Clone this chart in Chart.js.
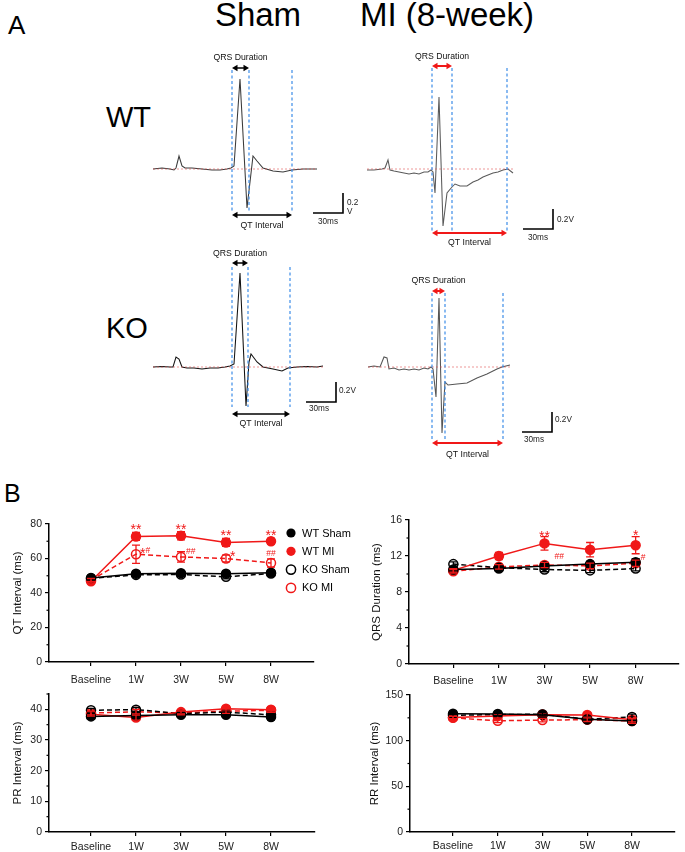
<!DOCTYPE html>
<html><head><meta charset="utf-8">
<script src="https://cdn.jsdelivr.net/npm/chart.js@4.4.1/dist/chart.umd.min.js"></script>
<style>
html,body{margin:0;padding:0;background:#fff}
#fig{position:relative;width:685px;height:852px;overflow:hidden;font-family:"Liberation Sans",Arial,sans-serif;color:#000;background:#fff}
#fig canvas{position:absolute}
.lbl{position:absolute;white-space:nowrap;line-height:1}
.ctr{text-align:center;width:240px}
</style></head><body>
<div id="fig">
<div class="lbl" style="left:8px;top:12px;font-size:26px">A</div>
<div class="lbl ctr" style="left:138px;top:-2px;font-size:33px">Sham</div>
<div class="lbl ctr" style="left:327px;top:-2px;font-size:33px">MI (8-week)</div>
<div class="lbl" style="left:106px;top:103px;font-size:29px">WT</div>
<div class="lbl" style="left:106px;top:314px;font-size:29px">KO</div>
<div class="lbl" style="left:4px;top:481px;font-size:25px">B</div>
</div>
<script>
// ================= PANEL A DATA (ECG traces: time in ms from QRS onset, amplitude in V) =================
const wtShamT = [-79,-70,-62,-58,-56,-53,-50,-47,-40,-30,-20,-12,-5,-1,2,8,15,21,25,31,41,51,60,71,85];
const wtShamV = [0,0.01,0,-0.01,0.01,0.13,0.03,0.01,0.01,0,-0.01,-0.01,0,0.01,0.03,0.90,-0.39,0.13,0.08,0.01,-0.02,-0.03,-0.01,0,0];
const wtMiT = [-65,-58,-50,-47,-44,-42,-38,-33,-28,-23,-18,-13,-8,-4,-1,1,3,7,11,15,20,23,28,35,41,46,51,56,61,66,71,76,81];
const wtMiV = [-0.01,-0.01,0,0.01,0.09,-0.01,-0.02,-0.03,-0.04,-0.05,-0.04,-0.05,-0.03,-0.03,-0.01,-0.03,-0.24,0.72,-0.57,-0.24,-0.18,-0.15,-0.17,-0.17,-0.13,-0.11,-0.08,-0.06,-0.04,-0.03,-0.01,0,-0.04];
const koShamT = [-79,-70,-62,-59,-56,-53,-50,-45,-38,-30,-22,-14,-7,-2,2,8,14,17,19,25,31,41,50,56,65,75,85,91];
const koShamV = [0,0.005,0,0,0.10,0.08,0,-0.01,-0.01,-0.02,-0.01,-0.01,0,0.01,0.03,0.94,-0.39,0.05,0.13,0.05,0,-0.02,-0.04,-0.01,0,0.005,0,0.01];
const koMiT = [-64,-58,-52,-50,-48,-45,-43,-38,-33,-28,-23,-18,-13,-8,-4,-1,1,4,7,10,13,16,25,35,45,55,65,70,78];
const koMiV = [0,0.01,0,0.05,0.10,0.09,-0.02,-0.01,-0.03,-0.02,-0.03,-0.02,-0.03,-0.01,-0.02,0,-0.02,-0.30,0.69,-0.66,-0.15,-0.18,-0.17,-0.16,-0.11,-0.07,-0.02,0,0.02];
// interval markers (ms from QRS onset): WT Sham, WT MI, KO Sham, KO MI
const qrsEndMs = [17, 20, 16, 13];
const qtEndMs  = [60, 75, 58, 71];
const scaleBarMs = 30, scaleBarV = 0.2;
const scaleBarText = ['0.2\nV', '0.2V', '0.2V', '0.2V'];

// ================= PANEL B DATA =================
const categories = ['Baseline', '1W', '3W', '5W', '8W'];
const groupNames = ['WT Sham', 'WT MI', 'KO Sham', 'KO MI'];
// QT interval (ms): mean, SEM
const qtWTSham = [48.7, 51.2, 51.5, 51.2, 51.8];
const qtWTMI   = [46.8, 72.8, 73.2, 69.3, 70.0];
const qtKOSham = [48.5, 50.5, 50.7, 49.4, 51.3];
const qtKOMI   = [47.5, 62.5, 60.9, 60.0, 57.4];
const qtWTShamSem = [0.8, 1.3, 1.3, 1.3, 1.8];
const qtWTMISem   = [0.9, 2.3, 2.4, 2.3, 1.6];
const qtKOShamSem = [0.7, 1.0, 1.0, 1.2, 1.5];
const qtKOMISem   = [0.9, 5.3, 3.0, 2.0, 2.4];
// QRS duration (ms)
const qrsWTSham = [10.5, 10.6, 10.9, 11.1, 11.3];
const qrsWTMI   = [10.4, 12.0, 13.4, 12.7, 13.2];
const qrsKOSham = [11.1, 10.7, 10.5, 10.4, 10.6];
const qrsKOMI   = [10.3, 10.8, 11.0, 10.9, 11.2];
const qrsWTShamSem = [0.2, 0.25, 0.25, 0.3, 0.4];
const qrsWTMISem   = [0.2, 0.4, 0.75, 0.8, 0.95];
const qrsKOShamSem = [0.25, 0.25, 0.25, 0.25, 0.25];
const qrsKOMISem   = [0.2, 0.25, 0.3, 0.3, 0.35];
// PR interval (ms)
const prWTSham = [37.7, 38.0, 38.2, 38.2, 37.5];
const prWTMI   = [38.4, 37.3, 39.1, 40.2, 39.9];
const prKOSham = [39.7, 39.9, 38.6, 39.1, 38.2];
const prKOMI   = [38.8, 39.2, 38.8, 39.4, 39.7];
const prWTShamSem = [0.5, 1.0, 0.8, 0.8, 0.9];
const prWTMISem   = [0.6, 0.8, 0.6, 0.6, 0.8];
const prKOShamSem = [0.6, 0.7, 0.7, 0.7, 0.8];
const prKOMISem   = [0.6, 0.7, 0.6, 0.7, 0.7];
// RR interval (ms)
const rrWTSham = [129.5, 129.2, 128.5, 123.5, 121.5];
const rrWTMI   = [125.5, 127.0, 128.5, 128.2, 123.0];
const rrKOSham = [127.8, 128.5, 129.0, 123.5, 126.0];
const rrKOMI   = [125.0, 121.8, 122.5, 123.0, 121.5];
const rrWTShamSem = [1.5, 1.5, 2.0, 2.5, 2.5];
const rrWTMISem   = [1.5, 2.0, 2.0, 2.5, 2.5];
const rrKOShamSem = [1.5, 1.5, 2.0, 2.0, 3.0];
const rrKOMISem   = [1.5, 2.0, 2.0, 2.0, 2.5];
// significance marks
const qtMarks  = [{g:1,i:1,text:'**'},{g:1,i:2,text:'**'},{g:1,i:3,text:'**'},{g:1,i:4,text:'**'},
                  {g:3,i:1,text:'*#'},{g:3,i:2,text:'##'},{g:3,i:3,text:'*'},{g:3,i:4,text:'##'}];
const qrsMarks = [{g:1,i:2,text:'**'},{g:1,i:4,text:'*'},{g:3,i:2,text:'##'},{g:3,i:4,text:'#'}];

// ================= STYLE / LAYOUT =================
const FONT = '"Liberation Sans", Arial, sans-serif';
const RED = '#f01818';
const fig = document.getElementById('fig');
const PX_PER_MS = 1, PX_PER_V = 100;

function addCanvas(left, top, w, h) {
  const cv = document.createElement('canvas');
  cv.width = w; cv.height = h;
  Object.assign(cv.style, {left: left + 'px', top: top + 'px', width: w + 'px', height: h + 'px'});
  fig.appendChild(cv);
  return cv;
}

// ---------- Panel A ----------
const ecgTraces = [[wtShamT, wtShamV], [wtMiT, wtMiV], [koShamT, koShamV], [koMiT, koMiV]];
const ecgIsMI = [false, true, false, true];
const ecgLayout = [
  {x0:232, y0:169, tmin:-85, tmax:135, vmin:-0.66, vmax:1.2, lineTop:0.99, lineBot:-0.44, qrsA:1.01, qrsT:1.11, qtA:-0.46, qtT:-0.57,
   barEnd:111, barV:-0.44, barLblT:115, barLblV:-0.34, msLblT:96, msLblV:-0.53, color:'#3a3a3a'},
  {x0:432, y0:169, tmin:-70, tmax:145, vmin:-0.8, vmax:1.2, lineTop:1.01, lineBot:-0.64, qrsA:1.03, qrsT:1.12, qtA:-0.64, qtT:-0.74,
   barEnd:121, barV:-0.60, barLblT:125, barLblV:-0.51, msLblT:106, msLblV:-0.69, color:'#5a5a5a'},
  {x0:232, y0:367, tmin:-85, tmax:135, vmin:-0.66, vmax:1.2, lineTop:1.0, lineBot:-0.40, qrsA:1.04, qrsT:1.13, qtA:-0.47, qtT:-0.57,
   barEnd:104, barV:-0.35, barLblT:107, barLblV:-0.24, msLblT:87, msLblV:-0.415, color:'#111'},
  {x0:432, y0:367, tmin:-70, tmax:150, vmin:-0.95, vmax:0.95, lineTop:0.74, lineBot:-0.73, qrsA:0.76, qrsT:0.86, qtA:-0.76, qtT:-0.88,
   barEnd:120, barV:-0.65, barLblT:123, barLblV:-0.53, msLblT:102, msLblV:-0.73, color:'#555'}
];

function drawArrow(ctx, x1, x2, y, color, lw) {
  const h = 5.5, w = 3.2;
  ctx.strokeStyle = color; ctx.fillStyle = color; ctx.lineWidth = lw;
  ctx.beginPath(); ctx.moveTo(x1 + h - 1, y); ctx.lineTo(x2 - h + 1, y); ctx.stroke();
  ctx.beginPath(); ctx.moveTo(x1, y); ctx.lineTo(x1 + h, y - w); ctx.lineTo(x1 + h, y + w); ctx.closePath(); ctx.fill();
  ctx.beginPath(); ctx.moveTo(x2, y); ctx.lineTo(x2 - h, y - w); ctx.lineTo(x2 - h, y + w); ctx.closePath(); ctx.fill();
}

function makeEcgPlugin(k) {
  const L = ecgLayout[k], mi = ecgIsMI[k];
  return {
    id: 'ecgDecor' + k,
    afterDatasetsDraw(chart) {
      const {ctx} = chart; const xs = chart.scales.x, ys = chart.scales.y;
      const X = t => xs.getPixelForValue(t), Y = v => ys.getPixelForValue(v);
      ctx.save();
      ctx.strokeStyle = '#3d8de8'; ctx.lineWidth = 1.2; ctx.setLineDash([3, 2.5]);
      [0, qrsEndMs[k], qtEndMs[k]].forEach(t => {
        ctx.beginPath(); ctx.moveTo(X(t), Y(L.lineTop)); ctx.lineTo(X(t), Y(L.lineBot)); ctx.stroke();
      });
      ctx.setLineDash([]);
      const ac = mi ? RED : '#000';
      drawArrow(ctx, X(0), X(qrsEndMs[k]), Y(L.qrsA), ac, mi ? 2 : 1.5);
      drawArrow(ctx, X(0), X(qtEndMs[k]), Y(L.qtA), ac, mi ? 2.2 : 1.5);
      ctx.fillStyle = '#111'; ctx.font = '8.7px ' + FONT; ctx.textAlign = 'center'; ctx.textBaseline = 'middle';
      ctx.fillText('QRS Duration', X(qrsEndMs[k] / 2), Y(L.qrsT));
      ctx.fillText('QT Interval', X(qtEndMs[k] / 2), Y(L.qtT));
      // scale bar
      ctx.strokeStyle = '#000'; ctx.lineWidth = 1.6;
      ctx.beginPath();
      ctx.moveTo(X(L.barEnd - scaleBarMs), Y(L.barV));
      ctx.lineTo(X(L.barEnd), Y(L.barV));
      ctx.lineTo(X(L.barEnd), Y(L.barV + scaleBarV));
      ctx.stroke();
      ctx.fillStyle = '#222'; ctx.font = '8.2px ' + FONT;
      ctx.textAlign = 'center';
      ctx.fillText(scaleBarMs + 'ms', X(L.msLblT), Y(L.msLblV));
      ctx.textAlign = 'left';
      const lines = scaleBarText[k].split('\n');
      lines.forEach((s, j) => ctx.fillText(s, X(L.barLblT), Y(L.barLblV) + j * 8.5));
      ctx.restore();
    }
  };
}

ecgLayout.forEach((L, k) => {
  const [T, V] = ecgTraces[k];
  const w = Math.round((L.tmax - L.tmin) * PX_PER_MS), h = Math.round((L.vmax - L.vmin) * PX_PER_V);
  const cv = addCanvas(L.x0 + L.tmin * PX_PER_MS, Math.round(L.y0 - L.vmax * PX_PER_V), w, h);
  new Chart(cv, {
    type: 'scatter',
    data: {datasets: [
      {data: [{x: T[0], y: 0}, {x: T[T.length - 1], y: 0}], showLine: true, borderColor: 'rgba(225,80,80,0.65)',
       borderWidth: 0.9, borderDash: [2, 2], pointRadius: 0},
      {data: T.map((t, i) => ({x: t, y: V[i]})), showLine: true, borderColor: L.color, borderWidth: 1.05,
       pointRadius: 0, tension: 0}
    ]},
    options: {
      responsive: false, animation: false, devicePixelRatio: 1, events: [],
      layout: {padding: 0},
      plugins: {legend: {display: false}, tooltip: {enabled: false}},
      scales: {
        x: {type: 'linear', display: false, min: L.tmin, max: L.tmax},
        y: {type: 'linear', display: false, min: L.vmin, max: L.vmax}
      }
    },
    plugins: [makeEcgPlugin(k)]
  });
});

// ---------- Panel B ----------
function seriesStyle(g) {
  const red = (g === 1 || g === 3), open = g >= 2;
  return {color: red ? RED : '#000', open, dash: open ? [5, 3] : []};
}
function makeDatasets(valsList) {
  return valsList.map((vals, g) => {
    const st = seriesStyle(g);
    return {
      label: groupNames[g], data: vals.map((v, i) => ({x: i, y: v})),
      borderColor: st.color, borderWidth: 1.5, borderDash: st.dash,
      pointRadius: 4.5, pointBorderWidth: 1.5, pointBorderColor: st.color,
      pointBackgroundColor: st.open ? 'rgba(255,255,255,0)' : st.color,
      pointStyle: 'circle', tension: 0, fill: false, clip: false
    };
  });
}
function drawMark(ctx, text, x0, cy, align) {
  const parts = [...text].map(ch => ({ch, font: (ch === '*' ? '14px ' : '8.5px ') + FONT, off: ch === '*' ? 8 : 3}));
  let total = 0;
  parts.forEach(p => { ctx.font = p.font; p.w = ctx.measureText(p.ch).width; total += p.w; });
  let x = align === 'center' ? x0 - total / 2 : x0;
  ctx.textAlign = 'left'; ctx.textBaseline = 'alphabetic'; ctx.fillStyle = RED;
  parts.forEach(p => { ctx.font = p.font; ctx.fillText(p.ch, x, cy + p.off); x += p.w; });
}
function makeBPlugin(spec, box) {
  return {
    id: 'bdecor',
    afterDatasetsDraw(chart) {
      const {ctx, chartArea: ca} = chart; const xs = chart.scales.x, ys = chart.scales.y;
      ctx.save();
      spec.sems.forEach((sem, g) => {
        const st = seriesStyle(g);
        ctx.strokeStyle = st.color; ctx.lineWidth = 1.3;
        sem.forEach((e, i) => {
          const v = spec.values[g][i];
          const px = xs.getPixelForValue(i), y1 = ys.getPixelForValue(v + e), y2 = ys.getPixelForValue(v - e);
          ctx.beginPath();
          ctx.moveTo(px, y1); ctx.lineTo(px, y2);
          ctx.moveTo(px - 4, y1); ctx.lineTo(px + 4, y1);
          ctx.moveTo(px - 4, y2); ctx.lineTo(px + 4, y2);
          ctx.stroke();
        });
      });
      ctx.strokeStyle = '#000'; ctx.lineWidth = 1.2;
      spec.minors.forEach(v => {
        const py = ys.getPixelForValue(v);
        ctx.beginPath(); ctx.moveTo(ca.left, py); ctx.lineTo(ca.left - 2.5, py); ctx.stroke();
      });
      (spec.marks || []).forEach((m, j) => {
        const P = spec.markPlace[j];
        const v = spec.values[m.g][m.i], e = spec.sems[m.g][m.i];
        const px = xs.getPixelForValue(m.i);
        const ref = P.ref === 'err' ? ys.getPixelForValue(v + e) : ys.getPixelForValue(v);
        drawMark(ctx, m.text, px + P.dx, ref + P.dy, P.ref === 'err' ? 'center' : 'left');
      });
      if (spec.legend) {
        const Lg = spec.legend;
        groupNames.forEach((name, g) => {
          const st = seriesStyle(g); const cy = Lg.y0 + g * Lg.dy - box.top; const cx = Lg.x - box.left;
          ctx.beginPath(); ctx.arc(cx, cy, 4.6, 0, 2 * Math.PI);
          if (st.open) { ctx.strokeStyle = st.color; ctx.lineWidth = 1.5; ctx.stroke(); }
          else { ctx.fillStyle = st.color; ctx.fill(); }
          ctx.fillStyle = '#000'; ctx.font = '11px ' + FONT; ctx.textAlign = 'left'; ctx.textBaseline = 'middle';
          ctx.fillText(name, Lg.textX - box.left, cy + 0.5);
        });
      }
      ctx.restore();
    }
  };
}
function makeBChart(box, spec) {
  const cv = addCanvas(box.left, box.top, box.width, box.height);
  const unit = (box.cat4 - box.cat0) / 4;
  const xmin = -(box.cat0 - box.axisX) / unit;
  const xmax = 4 + (box.plotRight - box.cat4) / unit;
  const tickFont = {family: FONT, size: 10.5};
  new Chart(cv, {
    type: 'line',
    data: {datasets: makeDatasets(spec.values)},
    options: {
      responsive: false, animation: false, devicePixelRatio: 1, events: [],
      layout: {padding: {left: 0, top: box.plotTop - box.top, right: box.left + box.width - box.plotRight, bottom: 0}},
      plugins: {legend: {display: false}, tooltip: {enabled: false}},
      scales: {
        x: {type: 'linear', min: xmin, max: xmax,
            afterBuildTicks: s => { s.ticks = categories.map((c, i) => ({value: i})); },
            afterFit: s => { s.height = box.top + box.height - box.plotBottom; },
            ticks: {callback: v => categories[v] ?? '', font: tickFont, color: '#222', padding: box.xPad, maxRotation: 0, autoSkip: false},
            grid: {drawOnChartArea: false, drawTicks: true, tickLength: 4, color: '#000', lineWidth: 1.2},
            border: {display: true, color: '#000', width: 1.5}},
        y: {type: 'linear', min: 0, max: spec.ymax,
            afterBuildTicks: s => { s.ticks = spec.majors.map(v => ({value: v})); },
            afterFit: s => { s.width = box.axisX - box.left; },
            ticks: {font: tickFont, color: '#222', padding: 3},
            grid: {drawOnChartArea: false, drawTicks: true, tickLength: 4, color: '#000', lineWidth: 1.2},
            border: {display: true, color: '#000', width: 1.5},
            title: {display: true, text: spec.title, font: {family: FONT, size: 11.5}, color: '#111',
                    padding: {top: box.titleCx - box.left - 6.9, bottom: 0}}}
      }
    },
    plugins: [makeBPlugin(spec, box)]
  });
}

makeBChart({left: 0, top: 505, width: 360, height: 190, axisX: 49, plotTop: 524, plotBottom: 662, plotRight: 314, cat0: 91, cat4: 271, xPad: 8, titleCx: 18},
  {values: [qtWTSham, qtWTMI, qtKOSham, qtKOMI], sems: [qtWTShamSem, qtWTMISem, qtKOShamSem, qtKOMISem],
   ymax: 80, majors: [0, 20, 40, 60, 80], minors: [10, 30, 50, 70], title: 'QT Interval (ms)',
   marks: qtMarks,
   markPlace: [{ref:'err',dx:0,dy:-6},{ref:'err',dx:0,dy:-6},{ref:'err',dx:0,dy:-6},{ref:'err',dx:0,dy:-6},
               {ref:'pt',dx:4,dy:-4},{ref:'pt',dx:5,dy:-6},{ref:'pt',dx:4,dy:-6},{ref:'err',dx:0,dy:-6}],
   legend: {x: 291, y0: 533, dy: 18.3, textX: 302}});
makeBChart({left: 340, top: 500, width: 345, height: 195, axisX: 409, plotTop: 520, plotBottom: 664, plotRight: 683, cat0: 454, cat4: 639, xPad: 7, titleCx: 377},
  {values: [qrsWTSham, qrsWTMI, qrsKOSham, qrsKOMI], sems: [qrsWTShamSem, qrsWTMISem, qrsKOShamSem, qrsKOMISem],
   ymax: 16, majors: [0, 4, 8, 12, 16], minors: [2, 6, 10, 14], title: 'QRS Duration (ms)',
   marks: qrsMarks,
   markPlace: [{ref:'err',dx:0,dy:-4},{ref:'err',dx:0,dy:-5},{ref:'pt',dx:10,dy:-9},{ref:'pt',dx:5,dy:-6}]});
makeBChart({left: 0, top: 684, width: 340, height: 168, axisX: 49, plotTop: 694, plotBottom: 832, plotRight: 315, cat0: 91, cat4: 271, xPad: 5, titleCx: 18},
  {values: [prWTSham, prWTMI, prKOSham, prKOMI], sems: [prWTShamSem, prWTMISem, prKOShamSem, prKOMISem],
   ymax: 45, majors: [0, 10, 20, 30, 40], minors: [5, 15, 25, 35, 45], title: 'PR Interval (ms)'});
makeBChart({left: 340, top: 684, width: 345, height: 168, axisX: 410, plotTop: 695, plotBottom: 832, plotRight: 675, cat0: 453, cat4: 632, xPad: 4, titleCx: 375},
  {values: [rrWTSham, rrWTMI, rrKOSham, rrKOMI], sems: [rrWTShamSem, rrWTMISem, rrKOShamSem, rrKOMISem],
   ymax: 150, majors: [0, 50, 100, 150], minors: [25, 75, 125], title: 'RR Interval (ms)'});
</script>
</body></html>
